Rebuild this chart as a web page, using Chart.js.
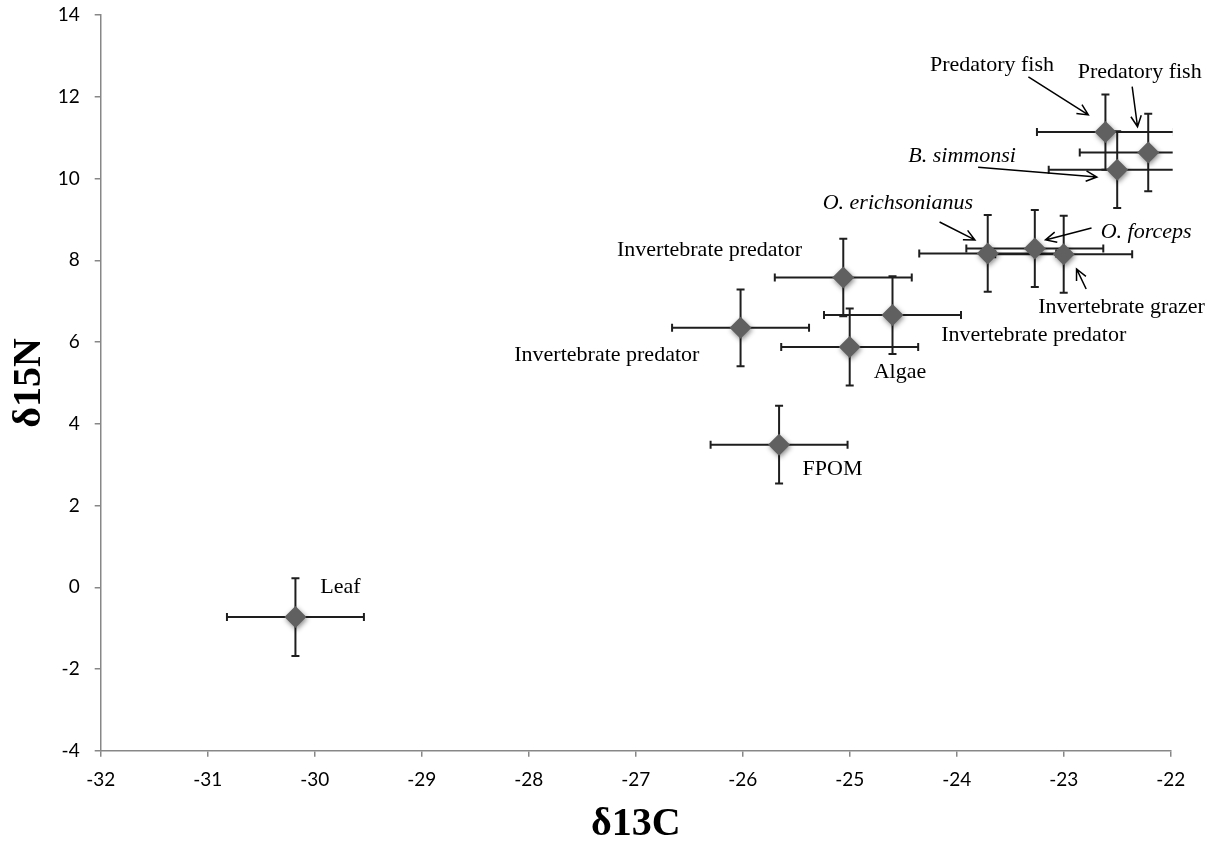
<!DOCTYPE html>
<html>
<head>
<meta charset="utf-8">
<title>δ13C / δ15N</title>
<script src="https://cdn.jsdelivr.net/npm/chart.js@4.4.1/dist/chart.umd.min.js"></script>
<style>
  html, body { margin: 0; padding: 0; background: #fff; }
</style>
</head>
<body>
<canvas id="isotope-chart" width="1220" height="845"></canvas>
<script>
// Mean isotope values per food-web group, with +/- 1 SD
const groups = ['Leaf', 'FPOM', 'Invertebrate predator', 'Algae', 'Invertebrate predator',
                'Invertebrate predator', 'O. erichsonianus', 'O. forceps', 'Invertebrate grazer',
                'B. simmonsi', 'Predatory fish', 'Predatory fish'];
const d13C    = [-30.18, -25.66, -26.02, -25.00, -24.60, -25.06, -23.71, -23.27, -23.00, -22.50, -22.61, -22.21];
const d15N    = [-0.73, 3.49, 6.35, 5.88, 6.66, 7.58, 8.17, 8.29, 8.15, 10.22, 11.14, 10.64];
const d13CErr = [0.64, 0.64, 0.64, 0.64, 0.64, 0.64, 0.64, 0.64, 0.64, 0.64, 0.64, 0.64];
const d15NErr = [0.95, 0.95, 0.94, 0.94, 0.95, 0.95, 0.94, 0.94, 0.94, 0.94, 0.92, 0.95];

const xTicks = [-32, -31, -30, -29, -28, -27, -26, -25, -24, -23, -22];
const yTicks = [-4, -2, 0, 2, 4, 6, 8, 10, 12, 14];

// Text callouts, placed in data units (centre of the text)
const callouts = [
  { text: 'Predatory fish',        italic: false, x: -23.67, y: 12.78 },
  { text: 'Predatory fish',        italic: false, x: -22.29, y: 12.61 },
  { text: 'B. simmonsi',           italic: true,  x: -23.95, y: 10.54 },
  { text: 'O. erichsonianus',      italic: true,  x: -24.55, y: 9.40 },
  { text: 'O. forceps',            italic: true,  x: -22.23, y: 8.70 },
  { text: 'Invertebrate grazer',   italic: false, x: -22.46, y: 6.86 },
  { text: 'Invertebrate predator', italic: false, x: -23.28, y: 6.17 },
  { text: 'Invertebrate predator', italic: false, x: -26.31, y: 8.24 },
  { text: 'Invertebrate predator', italic: false, x: -27.27, y: 5.67 },
  { text: 'Algae',                 italic: false, x: -24.53, y: 5.27 },
  { text: 'FPOM',                  italic: false, x: -25.16, y: 2.89 },
  { text: 'Leaf',                  italic: false, x: -29.76, y: 0.01 }
];

// Arrows from a callout towards its point: [fromX, fromY, toX, toY]
const arrows = [
  [-23.33, 12.49, -22.77, 11.56],
  [-22.36, 12.25, -22.31, 11.27],
  [-23.80, 10.28, -22.69, 10.04],
  [-24.16, 8.94, -23.83, 8.50],
  [-22.74, 8.79, -23.17, 8.50],
  [-22.79, 7.30, -22.88, 7.79]
];

const serif = '"Liberation Serif", "Times New Roman", serif';

// error bars go under the markers, clipped to the plot area
const errorBars = {
  id: 'errorBars',
  beforeDatasetsDraw(chart) {
    const { ctx, chartArea, scales: { x, y } } = chart;
    const cap = 4;
    ctx.save();
    ctx.beginPath();
    ctx.rect(chartArea.left, chartArea.top, chartArea.width + 2, chartArea.height);
    ctx.clip();
    ctx.strokeStyle = '#1e1e1e';
    ctx.lineWidth = 2;
    d13C.forEach((cx, i) => {
      const px = x.getPixelForValue(cx);
      const py = y.getPixelForValue(d15N[i]);
      const left = x.getPixelForValue(cx - d13CErr[i]);
      const right = x.getPixelForValue(cx + d13CErr[i]);
      const top = y.getPixelForValue(d15N[i] + d15NErr[i]);
      const bottom = y.getPixelForValue(d15N[i] - d15NErr[i]);
      ctx.beginPath();
      ctx.moveTo(left, py); ctx.lineTo(right, py);
      ctx.moveTo(left, py - cap); ctx.lineTo(left, py + cap);
      ctx.moveTo(right, py - cap); ctx.lineTo(right, py + cap);
      ctx.moveTo(px, top); ctx.lineTo(px, bottom);
      ctx.moveTo(px - cap, top); ctx.lineTo(px + cap, top);
      ctx.moveTo(px - cap, bottom); ctx.lineTo(px + cap, bottom);
      ctx.stroke();
    });
    ctx.restore();
  },
  // soft shadow under the diamonds
  beforeDatasetDraw(chart) {
    const ctx = chart.ctx;
    ctx.save();
    ctx.shadowColor = 'rgba(0, 0, 0, 0.45)';
    ctx.shadowBlur = 5;
    ctx.shadowOffsetX = 1;
    ctx.shadowOffsetY = 2;
  },
  afterDatasetDraw(chart) {
    chart.ctx.restore();
  }
};

const labelsPlugin = {
  id: 'callouts',
  afterDatasetsDraw(chart) {
    const { ctx, scales: { x, y } } = chart;
    ctx.save();
    ctx.fillStyle = '#000';
    ctx.textAlign = 'center';
    ctx.textBaseline = 'middle';
    callouts.forEach(c => {
      ctx.font = (c.italic ? 'italic ' : '') + '22px ' + serif;
      ctx.fillText(c.text, x.getPixelForValue(c.x), y.getPixelForValue(c.y));
    });

    ctx.strokeStyle = '#000';
    ctx.lineWidth = 1.5;
    const head = 12, spread = Math.PI / 7;
    arrows.forEach(a => {
      const x0 = x.getPixelForValue(a[0]), y0 = y.getPixelForValue(a[1]);
      const x1 = x.getPixelForValue(a[2]), y1 = y.getPixelForValue(a[3]);
      const ang = Math.atan2(y1 - y0, x1 - x0);
      ctx.beginPath();
      ctx.moveTo(x0, y0);
      ctx.lineTo(x1, y1);
      ctx.moveTo(x1 - head * Math.cos(ang - spread), y1 - head * Math.sin(ang - spread));
      ctx.lineTo(x1, y1);
      ctx.lineTo(x1 - head * Math.cos(ang + spread), y1 - head * Math.sin(ang + spread));
      ctx.stroke();
    });
    ctx.restore();
  }
};

const axisGrey = '#878787';
const tickFont = { family: 'Lato, "Open Sans", sans-serif', size: 19 };

// fixed axis box sizes; drop the label overhang padding so the plot edges stay put
function fixX(s) {
  s.height = 94.3;
  s.paddingLeft = 0;
  s.paddingRight = 0;
}
function fixY(s) {
  s.width = 100.7;
  s.paddingTop = 0;
  s.paddingBottom = 0;
}

new Chart(document.getElementById('isotope-chart'), {
  type: 'scatter',
  data: {
    datasets: [{
      label: 'Isotopes',
      data: d13C.map((v, i) => ({ x: v, y: d15N[i] })),
      pointStyle: 'rectRot',
      pointRadius: 11,
      pointHoverRadius: 11,
      pointBorderWidth: 0,
      backgroundColor: '#606060',
      borderColor: '#606060'
    }]
  },
  options: {
    responsive: false,
    animation: false,
    layout: { padding: { top: 15.2, right: 49.3, left: 0, bottom: 0 } },
    plugins: {
      legend: { display: false },
      tooltip: { enabled: false }
    },
    scales: {
      x: {
        type: 'linear',
        min: xTicks[0],
        max: xTicks[xTicks.length - 1],
        afterBuildTicks: s => { s.ticks = xTicks.map(v => ({ value: v })); },
        afterFit: fixX,
        grid: { drawOnChartArea: false, drawTicks: true, tickLength: 6, color: axisGrey, lineWidth: 1.5 },
        border: { color: axisGrey, width: 1.5 },
        ticks: { color: '#000', font: tickFont, padding: 12, maxRotation: 0 },
        title: {
          display: true,
          text: 'δ13C',
          color: '#000',
          font: { family: serif, size: 40, weight: 'bold', lineHeight: 1 },
          padding: { top: 0, bottom: 0 }
        }
      },
      y: {
        type: 'linear',
        min: yTicks[0],
        max: yTicks[yTicks.length - 1],
        afterBuildTicks: s => { s.ticks = yTicks.map(v => ({ value: v })); },
        afterFit: fixY,
        grid: { drawOnChartArea: false, drawTicks: true, tickLength: 6, color: axisGrey, lineWidth: 1.5 },
        border: { color: axisGrey, width: 1.5 },
        ticks: { color: '#000', font: tickFont, padding: 15 },
        title: {
          display: true,
          text: 'δ15N',
          color: '#000',
          font: { family: serif, size: 40, weight: 'bold', lineHeight: 1 },
          padding: { top: 10, bottom: 0 }
        }
      }
    }
  },
  plugins: [errorBars, labelsPlugin]
});
</script>
</body>
</html>
